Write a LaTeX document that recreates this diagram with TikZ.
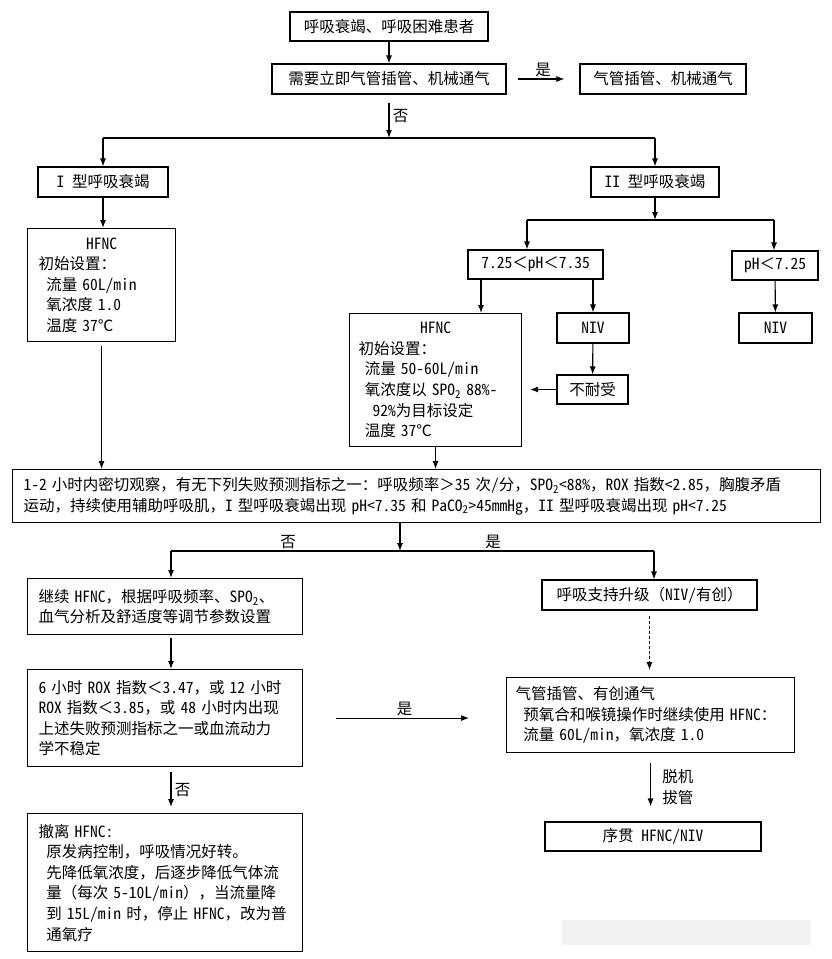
\documentclass[tikz,border=0pt]{standalone}
\usepackage{fontspec}
\setmainfont{Noto Sans CJK SC}[RawFeature=+hwid]
\newfontfamily\fwfont{Noto Sans CJK SC}
\newcommand\fw[1]{{\fwfont #1}}
\usetikzlibrary{arrows.meta}

\begin{document}
\begin{tikzpicture}[x=1pt,y=-1pt,
  font=\fontsize{15.5}{20.6}\selectfont,
  box/.style={draw,line width=1.1pt,inner sep=0pt},
  para/.style={box,anchor=north west,align=left,inner xsep=11pt},
  arr/.style={line width=1.1pt,-{Latex[length=8pt,width=6pt]}},
  link/.style={line width=1.1pt},
  lbl/.style={inner sep=2pt}]
\useasboundingbox (0,0) rectangle (831,959);

% Top: patient and intubation check
\node[box,minimum width=198pt,minimum height=29pt] (start) at (389,26.5) {呼吸衰竭、呼吸困难患者};
\node[box,minimum width=234pt,minimum height=30pt] (need) at (389,79) {需要立即气管插管、机械通气};
\node[box,minimum width=166pt,minimum height=30pt] (tube) at (663,79) {气管插管、机械通气};
\draw[arr] (start) -- (need);
\draw[arr,shorten <=11pt,shorten >=15pt] (need) -- (tube) node[lbl,midway,above] (yes1) {是};
\coordinate (split1) at (389,138);
\draw[arr,shorten <=8pt] (need.south) -- (split1) node[midway,right] (no1) {否};

% Type I / type II
\node[box,minimum width=130pt,minimum height=30pt] (type1) at (103,182) {I 型呼吸衰竭};
\node[box,minimum width=128pt,minimum height=30pt] (type2) at (655,182) {II 型呼吸衰竭};
\draw[link] (split1 -| type1) -- (split1 -| type2);
\draw[arr] (split1 -| type1) -- (type1);
\draw[arr] (split1 -| type2) -- (type2);

\node[para,text width=126pt,minimum height=113pt] (hfnc1) at (27,228)
  {\makebox[126pt]{HFNC}\\初始设置\fw{：}\\\hspace*{0.5em}流量 60L/min\\\hspace*{0.5em}氧浓度 1.0\\\hspace*{0.5em}温度 37℃};
\draw[arr] (type1.south) -- (type1.south |- hfnc1.north);

% Type II branches
\coordinate (split2) at (655,220);
\coordinate (s2l) at (527,220);
\coordinate (s2r) at (774,220);
\draw[arr] (type2) -- (split2);
\draw[link] (s2l) -- (s2r);
\node[box,minimum width=135pt,minimum height=29pt] (ph1) at (535.5,264.5) {7.25\fw{＜}pH\fw{＜}7.35};
\node[box,minimum width=86pt,minimum height=29pt] (ph2) at (775,265.5) {pH\fw{＜}7.25};
\draw[arr] (s2l) -- (s2l |- ph1.north);
\draw[arr] (s2r) -- (s2r |- ph2.north);

\node[para,inner xsep=9pt,text width=154pt,minimum height=133pt] (hfnc2) at (349,313)
  {\makebox[154pt]{HFNC}\\初始设置\fw{：}\\\hspace*{0.4em}流量~50-60L/min\\\hspace*{0.4em}氧浓度以~SPO\textsubscript{2}~88\%-\\\hspace*{0.9em}92\%为目标设定\\\hspace*{0.4em}温度 37℃};
\node[box,minimum width=72pt,minimum height=30pt] (niv1) at (593,328) {NIV};
\node[box,minimum width=73pt,minimum height=30pt] (niv2) at (775.5,328) {NIV};
\node[box,minimum width=71pt,minimum height=29pt] (refuse) at (592.5,389.5) {不耐受};
\draw[arr] ([xshift=-54.5pt]ph1.south) -- ([xshift=-54.5pt]ph1.south |- hfnc2.north);
\draw[arr] (niv1.north |- ph1.south) -- (niv1.north);
\draw[arr] (ph2) -- (niv2);
\draw[arr] (niv1) -- (refuse);
\draw[arr,shorten >=8pt] (refuse.west) -- (refuse.west -| hfnc2.east);

% Observation
\node[para,text width=786pt,minimum height=53pt] (obs) at (12,469)
  {1-2~小时内密切观察\fw{，}有无下列失败预测指标之一\fw{：}呼吸频率\fw{＞}35~次/分\fw{，}SPO\textsubscript{2}<88\%\fw{，}ROX~指数<2.85\fw{，}胸腹矛盾\\运动\fw{，}持续使用辅助呼吸肌\fw{，}I~型呼吸衰竭出现~pH<7.35~和~PaCO\textsubscript{2}>45mmHg\fw{，}II~型呼吸衰竭出现~pH<7.25};
\draw[arr,shorten <=4pt] (hfnc1.south) -- (hfnc1.south |- obs.north);
\draw[arr] (hfnc2.south) -- (hfnc2.south |- obs.north);

\coordinate (split3) at (400,551);
\coordinate (s3l) at (171,551);
\coordinate (s3r) at (654,551);
\draw[arr] (obs.south -| split3) -- (split3);
\draw[link] (s3l) -- (s3r);
\node[lbl,above] (no2) at (288,551) {否};
\node[lbl,above] (yes2) at (493,551) {是};

% Left column: continue / wean
\node[para,text width=253pt,minimum height=56pt] (cont) at (27,578)
  {继续~HFNC\fw{，}根据呼吸频率、SPO\textsubscript{2}、\\血气分析及舒适度等调节参数设置};
\node[para,text width=253pt,minimum height=97pt] (rox) at (27,669)
  {6~小时~ROX~指数\fw{＜}3.47\fw{，}或~12~小时\\ROX~指数\fw{＜}3.85\fw{，}或~48~小时内出现\\上述失败预测指标之一或血流动力\\学不稳定};
\node[para,text width=253pt,minimum height=138pt] (wean) at (27,813)
  {撤离 HFNC:\\\hspace*{0.5em}原发病控制\fw{，}呼吸情况好转。\\\hspace*{0.5em}先降低氧浓度\fw{，}后逐步降低气体流\\\hspace*{0.5em}量\fw{（}每次~5-10L/min\fw{），}当流量降\\\hspace*{0.5em}到~15L/min~时\fw{，}停止~HFNC\fw{，}改为普\\\hspace*{0.5em}通氧疗};
\draw[arr] (s3l) -- (s3l |- cont.north);
\draw[arr,shorten <=3pt] (s3l |- cont.south) -- (s3l |- rox.north);
\draw[arr,shorten <=5pt,shorten >=6pt] (s3l |- rox.south) -- (s3l |- wean.north) node[midway,right] (no3) {否};

% Right column: escalation
\node[box,minimum width=215pt,minimum height=30pt] (up) at (649.5,595) {呼吸支持升级\fw{（}NIV/有创\fw{）}};
\node[para,inner xsep=9pt,text width=270pt,minimum height=75pt] (intub) at (506,677)
  {气管插管、有创通气\\\hspace*{0.5em}预氧合和喉镜操作时继续使用~HFNC\fw{：}\\\hspace*{0.5em}流量~60L/min\fw{，}氧浓度~1.0};
\node[box,minimum width=216pt,minimum height=29pt] (seq) at (653,836.5) {序贯 HFNC/NIV};
\draw[arr] (s3r) -- (s3r |- up.north);
\draw[arr,densely dashed,shorten <=5pt,shorten >=7pt] (up.south) -- (up.south |- intub.north);
\draw[arr,shorten <=33pt,shorten >=37pt] (rox.east) -- (rox.east -| intub.west) node[lbl,midway,above] (yes3) {是};
\draw[arr,shorten <=10pt,shorten >=15pt] (intub.south) -- (intub.south |- seq.north)
  node[midway,right=8pt,align=left] (wlabel) {脱机\\拔管};

% blurred strip
\fill[gray!10] (562,920) rectangle (811,945);
\end{tikzpicture}
\end{document}
